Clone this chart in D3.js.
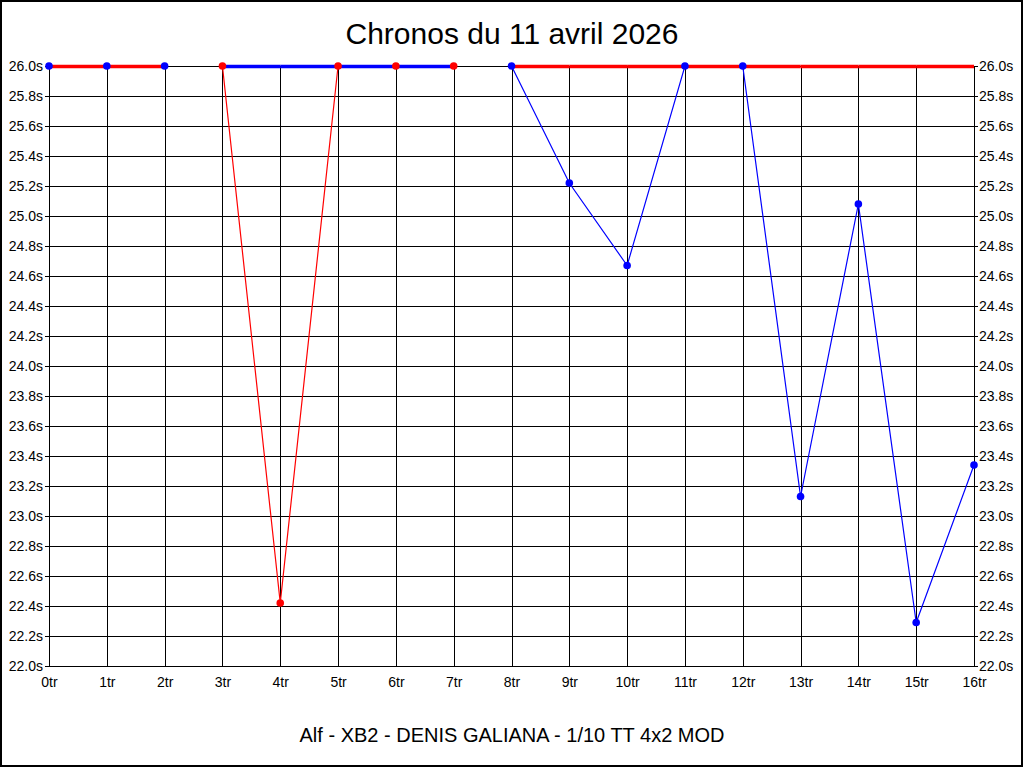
<!DOCTYPE html>
<html>
<head>
<meta charset="utf-8">
<script src="https://cdn.jsdelivr.net/npm/d3@7"></script>
<style>
  html, body { margin: 0; padding: 0; background: #fff; }
  svg { display: block; }
  text { font-family: Arial, "Liberation Sans", sans-serif; fill: #000; }
</style>
</head>
<body>
<svg id="chart" width="1024" height="768"></svg>
<script>
// ---- data ----
const title = "Chronos du 11 avril 2026";
const subtitle = "Alf - XB2 - DENIS GALIANA - 1/10 TT 4x2 MOD";
const laps = d3.range(0, 17);                  // 0tr .. 16tr
const lapLabels = laps.map(d => d + "tr");
const yTicks = d3.range(0, 21).map(i => 22 + i * 0.2);
const yMin = 22.0, yMax = 26.0;
// null = no lap time for this series (drawn as thick bar on the ceiling)
const blueTimes = [26.0, 26.0, 26.0, null, null, null, null, null,
                   26.0, 25.22, 24.67, 26.0, 26.0, 23.13, 25.08, 22.29, 23.34];
const redTimes  = [null, null, null, 26.0, 22.42, 26.0, 26.0, 26.0,
                   null, null, null, null, null, null, null, null, null];
const seriesColors = { blue: "#0000ff", red: "#ff0000" };

// ---- layout ----
const svg = d3.select("#chart");
const W = 1024, H = 768;
const m = { left: 49, right: 50, top: 66, bottom: 102 };
const x = d3.scaleLinear().domain([0, 16]).range([m.left, W - m.right]);
const y = d3.scaleLinear().domain([yMin, yMax]).range([H - m.bottom, m.top]);

// outer frame
svg.append("rect").attr("x", 1).attr("y", 1).attr("width", 1021).attr("height", 765)
  .attr("fill", "none").attr("stroke", "#000").attr("stroke-width", 2);

// title & subtitle
svg.append("text").attr("x", 512).attr("y", 44).attr("text-anchor", "middle")
  .style("font-size", "30px").text(title);
svg.append("text").attr("x", 512).attr("y", 742).attr("text-anchor", "middle")
  .style("font-size", "20px").text(subtitle);

// grid via axes
const gLeft = svg.append("g").attr("transform", `translate(${m.left},0)`)
  .call(d3.axisLeft(y).tickValues(yTicks).tickFormat(d => d.toFixed(1) + "s")
    .tickSize(4).tickPadding(2));
const gRight = svg.append("g").attr("transform", `translate(${W - m.right},0)`)
  .call(d3.axisRight(y).tickValues(yTicks).tickFormat(d => d.toFixed(1) + "s")
    .tickSize(4).tickPadding(1));
const gBottom = svg.append("g").attr("transform", `translate(0,${H - m.bottom})`)
  .call(d3.axisBottom(x).tickValues(laps).tickFormat((d, i) => lapLabels[i])
    .tickSize(0).tickPadding(11));
[gLeft, gRight, gBottom].forEach(g => {
  g.select(".domain").remove();
  g.selectAll("text").style("font-size", "14px").style("font-family", "Arial, 'Liberation Sans', sans-serif").attr("fill", "#000");
  g.selectAll("line").attr("stroke", "#000");
});

const grid = svg.append("g").attr("shape-rendering", "crispEdges");
grid.selectAll("line.h").data(yTicks).join("line")
  .attr("x1", m.left).attr("x2", W - m.right)
  .attr("y1", d => Math.round(y(d)) + 0.5).attr("y2", d => Math.round(y(d)) + 0.5)
  .attr("stroke", "#000");
grid.selectAll("line.v").data(laps).join("line")
  .attr("x1", d => Math.round(x(d)) + 0.5).attr("x2", d => Math.round(x(d)) + 0.5)
  .attr("y1", m.top).attr("y2", H - m.bottom)
  .attr("stroke", "#000");

// thin data lines
function thinLine(vals) {
  return d3.line().defined(d => d.v != null).x(d => x(d.i)).y(d => y(d.v))(vals.map((v, i) => ({ i, v })));
}
function capSegments(vals) {
  const segs = [];
  for (let i = 0; i < vals.length - 1; i++) {
    if (vals[i] == null && vals[i + 1] == null) segs.push([i, i + 1]);
  }
  return segs;
}
const series = [
  { name: "red", vals: redTimes },
  { name: "blue", vals: blueTimes }
];
series.forEach(s => {
  svg.append("path").attr("d", thinLine(s.vals)).attr("fill", "none")
    .attr("stroke", seriesColors[s.name]).attr("stroke-width", 1.2);
});
// thick ceiling segments (no lap time)
const capOrder = [{ name: "blue", vals: blueTimes }, { name: "red", vals: redTimes }];
capOrder.forEach(s => {
  svg.append("g").selectAll("line").data(capSegments(s.vals)).join("line")
    .attr("x1", d => x(d[0])).attr("x2", d => x(d[1]))
    .attr("y1", y(yMax) + 0.5).attr("y2", y(yMax) + 0.5)
    .attr("stroke", seriesColors[s.name]).attr("stroke-width", 3.5);
});
// dots
series.forEach(s => {
  svg.append("g").selectAll("circle")
    .data(s.vals.map((v, i) => ({ i, v })).filter(d => d.v != null)).join("circle")
    .attr("cx", d => x(d.i)).attr("cy", d => y(d.v)).attr("r", 3.8)
    .attr("fill", seriesColors[s.name]);
});
</script>
</body>
</html>
